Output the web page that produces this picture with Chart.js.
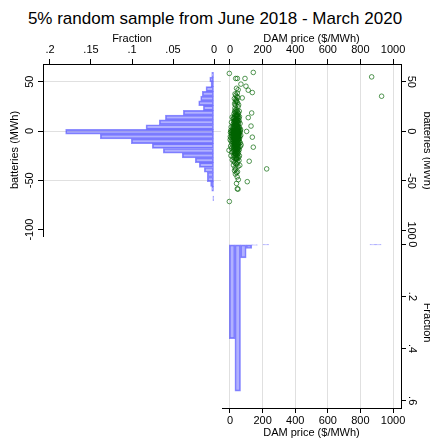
<!DOCTYPE html>
<html>
<head>
<meta charset="utf-8">
<script src="https://cdn.jsdelivr.net/npm/chart.js@4.4.1/dist/chart.umd.min.js"></script>
<style>
  html, body { margin: 0; padding: 0; background: #fff; }
  #wrap { position: relative; width: 430px; height: 440px; }
  #wrap canvas { position: absolute; left: 0; top: 0; }
  #title { position: absolute; left: 0; top: 9px; width: 430px; text-align: center;
           font: 17px "Liberation Sans", Arial, sans-serif; line-height: 20px; color: #000; }
</style>
</head>
<body>
<div id="wrap">
  <div id="title">5% random sample from June 2018 - March 2020</div>
  <canvas id="leftHist" width="430" height="440"></canvas>
  <canvas id="scatter" width="430" height="440"></canvas>
  <canvas id="bottomHist" width="430" height="440"></canvas>
</div>
<script>
// ---- data ----
// batteries histogram (left panel), bin centres bottom -> top
const battBins = [-68.3, -63.5, -58.6, -53.8, -49.0, -44.2, -39.4, -34.5, -29.7, -24.9,
  -20.1, -15.2, -10.4, -5.6, -0.8, 4.0, 8.9, 13.7, 18.5, 23.3, 28.2, 33.0, 37.8, 42.6,
  47.4, 52.3, 57.1];
const battFrac = [0.0014, 0, 0.0028, 0.0042, 0.0082, 0.0082, 0.0118, 0.0179, 0.0228, 0.0387,
  0.0618, 0.0752, 0.1008, 0.1386, 0.1809, 0.0829, 0.0667, 0.0593, 0.0374, 0.0130,
  0.0187, 0.0163, 0.0143, 0.0098, 0.0037, 0.0052, 0.0028];

// DAM price histogram (bottom panel), bin centres
const priceBins = [13.0, 47.5, 82.0, 116.5, 151.0, 185.5, 220.0, 254.5, 289.0, 323.5,
  358.0, 392.5, 427.0, 461.5, 496.0, 530.5, 565.0, 599.5, 634.0, 668.5, 703.0, 737.5,
  772.0, 806.5, 841.0, 875.5, 910.0];
const priceFrac = [0.362, 0.563, 0.052, 0.016, 0.003, 0, 0.0014, 0, 0, 0,
  0, 0, 0, 0, 0, 0, 0, 0, 0, 0, 0, 0, 0, 0, 0, 0.0014, 0.0014];

// scatter sample: [DAM price, batteries]
const scatterPts = [
  [32,-0.5],[41,0.8],[25,-2.1],[47,1.2],[38,-1.4],[19,0.3],[44,-2.8],[35,1.5],[29,-0.9],[52,-1.7],
  [12,0.6],[40,-2.4],[33,0.1],[48,-0.3],[27,1.1],[36,-2.9],[43,0.4],[22,-1.2],[55,0.9],[31,-2.2],
  [39,1.4],[46,-0.7],[15,-1.9],[34,0.7],[50,-2.6],[28,-0.1],[42,1.0],[37,-1.5],[24,-2.7],[45,0.2],
  [30,1.3],[53,-1.1],[8,-0.4],[40,-2.0],[35,0.5],[26,-3.0],[49,1.5],[33,-1.6],[44,0.0],[21,-0.8],
  [38,1.2],[57,-2.3],[31,0.9],[42,-1.0],[17,1.4],[46,-2.5],[36,-0.2],[29,0.6],[51,-1.3],[39,-2.8],
  [23,0.3],[41,1.1],[34,-1.8],[47,-0.6],[102,0.0],[3,-1.1],[64,0.5],[10,-2.5],[60,-0.8],[5,1.0],
  [34,-4.1],[45,-6.2],[27,-7.5],[39,-3.6],[50,-5.3],[22,-4.8],[36,-7.9],[42,-3.4],[31,-6.6],[47,-4.4],
  [18,-5.9],[38,-7.1],[44,-3.9],[29,-5.0],[53,-6.9],[33,-4.6],[40,-7.7],[25,-3.3],[48,-5.6],[35,-6.3],
  [14,-4.2],[43,-7.3],[30,-3.8],[37,-5.4],[55,-4.9],[28,-7.0],[46,-6.0],[32,-3.5],[41,-4.7],[20,-6.8],
  [49,-7.6],[36,-4.0],[26,-5.7],[44,-6.4],[39,-3.2],[61,-5.1],[34,-7.4],[51,-4.3],[23,-6.1],[42,-5.8],
  [30,-7.8],[47,-3.7],[137,-5.8],[6,-6.5],[66,-3.9],[11,-4.5],[58,-7.2],[2,-5.2],
  [35,-8.6],[43,-10.2],[28,-12.1],[48,-9.0],[21,-11.4],[39,-8.3],[32,-12.6],[46,-10.9],[26,-9.5],[52,-11.8],
  [37,-8.9],[41,-12.3],[16,-10.0],[45,-9.7],[30,-11.1],[54,-8.2],[34,-12.8],[40,-9.3],[24,-10.6],[49,-11.6],
  [36,-8.0],[58,-10.4],[29,-12.0],[44,-9.1],[33,-11.0],[19,-8.8],[42,-10.8],[38,-12.4],[27,-9.8],[50,-8.5],
  [7,-9.9],[63,-11.5],[12,-12.2],[1,-8.4],
  [33,-13.4],[45,-15.8],[27,-17.2],[40,-14.1],[51,-13.0],[22,-16.3],[37,-14.9],[48,-17.5],[30,-15.2],[42,-13.7],
  [18,-14.6],[55,-16.0],[35,-17.0],[44,-13.2],[25,-15.5],[38,-16.8],[47,-14.3],[31,-13.9],[63,-15.1],[36,-16.5],
  [41,-17.6],[28,-14.0],[49,-15.9],[143,-15.9],[4,-14.8],[9,-16.9],[68,-13.6],
  [34,-18.2],[46,-20.4],[29,-22.1],[41,-19.0],[52,-21.5],[24,-18.9],[38,-20.9],[44,-17.9],[31,-21.8],[48,-19.6],
  [19,-20.1],[36,-22.4],[57,-18.5],[40,-21.2],[27,-19.3],[45,-22.0],[33,-20.6],[-6,-19.0],[50,-18.0],[11,-21.0],
  [37,-23.1],[45,-25.6],[30,-27.0],[42,-24.2],[53,-26.3],[25,-23.8],[39,-26.9],[48,-22.8],[33,-25.0],[58,-24.6],
  [20,-26.0],[43,-27.2],[6,-24.4],
  [36,-28.3],[47,-30.6],[29,-31.5],[41,-27.9],[55,-29.4],[24,-30.0],[118,-30.1],[14,-28.8],
  [38,-33.0],[49,-35.4],[31,-36.6],[43,-32.5],[60,-34.2],[21,-33.9],
  [35,-38.4],[46,-40.7],[225,-37.8],[40,-41.5],[28,-39.6],
  [33,-43.0],[44,-45.9],[51,-48.7],[106,-50.7],[40,-52.5],[45,-57.9],[49,-58.2],[-4,-70.7],
  [34,2.1],[45,4.6],[27,6.0],[40,3.0],[51,5.2],[22,2.5],[37,5.8],[48,1.9],[30,4.1],[43,6.3],
  [17,3.6],[55,2.8],[35,5.5],[42,1.7],[25,4.9],[47,3.3],[32,6.1],[39,2.2],[129,5.4],[58,4.0],
  [28,3.9],[44,5.0],[36,2.6],[20,5.7],[50,3.1],[7,4.4],[65,2.0],
  [33,7.0],[46,9.4],[28,10.8],[41,6.8],[53,8.5],[23,9.9],[37,11.0],[48,7.6],[31,8.2],[43,10.3],
  [19,7.3],[56,10.6],[35,9.0],[40,6.5],[26,8.8],[50,11.1],[38,7.9],[44,9.7],[62,8.0],[30,10.1],[9,9.2],
  [36,12.0],[47,14.5],[29,15.8],[42,11.6],[54,13.2],[24,14.0],[39,15.5],[45,12.4],[32,13.7],[50,15.1],
  [20,12.8],[112,13.9],[35,11.3],[41,16.0],[27,13.0],[58,14.8],[38,12.6],[44,15.6],[13,14.3],
  [34,17.0],[46,19.4],[29,20.6],[41,16.5],[52,18.3],[25,17.8],[38,20.0],[133,18.6],[48,16.9],[31,19.1],[57,20.4],
  [37,22.0],[49,24.8],[30,23.5],[44,21.3],
  [35,26.4],[46,28.9],[28,27.7],[41,30.0],[53,26.8],[33,29.6],
  [39,31.2],[48,34.0],[27,33.1],[75,33.8],[43,35.0],[930,35.5],[36,32.4],
  [36,36.5],[45,38.6],[137,39.2],[31,37.8],
  [112,41.6],[40,43.5],[50,42.0],[98,45.6],[67,47.7],
  [35,53.4],[45,53.4],[92,53.4],[869,55.0],[-4,58.5],[143,59.5]
];

// axis ticks
const battTicks = [-100, -50, 0, 50];
const battLabels = ['-100', '-50', '0', '50'];
const battLabelsRight = ['100', '-50', '0', '50'];
const leftFracTicks = [0, 0.05, 0.1, 0.15, 0.2];
const leftFracLabels = ['0', '.05', '.1', '.15', '.2'];
const priceTicks = [0, 200, 400, 600, 800, 1000];
const priceLabels = ['0', '200', '400', '600', '800', '1000'];
const bottomFracTicks = [0, 0.2, 0.4, 0.6];
const bottomFracLabels = ['0', '.2', '.4', '.6'];

// ---- styles ----
Chart.defaults.font.family = '"Liberation Sans", Arial, Helvetica, sans-serif';
Chart.defaults.font.size = 11;
Chart.defaults.color = '#000';

const gridGray = '#e0e0e0';
const barFill = 'rgba(70, 70, 255, 0.42)';
const barEdge = 'rgba(60, 60, 255, 0.58)';
const dotColor = 'rgba(0, 100, 0, 0.75)';

function setTicks(values) {
  return function (scale) { scale.ticks = values.map(v => ({ value: v })); };
}

const base = {
  responsive: false,
  animation: false,
  events: [],
  plugins: { legend: { display: false }, tooltip: { enabled: false } }
};

// left panel: batteries histogram, horizontal bars
new Chart(document.getElementById('leftHist'), {
  type: 'bar',
  data: {
    datasets: [{
      data: battBins.map((b, i) => ({ x: battFrac[i], y: b })),
      backgroundColor: barFill,
      borderColor: barEdge,
      borderWidth: 1,
      borderSkipped: false,
      barPercentage: 1,
      categoryPercentage: 1
    }]
  },
  options: {
    ...base,
    indexAxis: 'y',
    layout: { padding: { left: 0, top: 0, right: 209, bottom: 204 } },
    scales: {
      x: {
        type: 'linear', position: 'top', reverse: true, min: -0.0085, max: 0.2085,
        afterBuildTicks: setTicks(leftFracTicks),
        afterFit: s => { s.height = 64; },
        ticks: { callback: (v, i) => leftFracLabels[i], padding: 2, autoSkip: false, maxRotation: 0 },
        grid: { drawOnChartArea: false, tickLength: 5, tickColor: '#000' },
        border: { color: '#000', width: 1 },
        title: { display: true, text: 'Fraction', padding: { top: 32, bottom: 0 } }
      },
      y: {
        type: 'linear', position: 'left', min: -106.5, max: 68, offset: false,
        afterBuildTicks: setTicks(battTicks),
        afterFit: s => { s.width = 43; },
        ticks: { callback: (v, i) => battLabels[i], minRotation: 90, maxRotation: 90,
                 crossAlign: 'center', padding: -3, autoSkip: false },
        grid: { offset: false, tickLength: 5, tickColor: '#000',
                color: c => (c.tick && c.tick.value === -100) ? 'rgba(0,0,0,0)' : gridGray },
        border: { color: '#000', width: 1 },
        title: { display: true, text: 'batteries (MWh)', padding: { top: 8, bottom: 0 } }
      }
    }
  }
});

// top right: scatter
new Chart(document.getElementById('scatter'), {
  type: 'scatter',
  data: {
    datasets: [{
      data: scatterPts.map(p => ({ x: p[0], y: p[1] })),
      pointStyle: 'circle',
      pointRadius: 2.3,
      borderWidth: 0.9,
      borderColor: dotColor,
      backgroundColor: 'rgba(0,0,0,0)'
    }]
  },
  options: {
    ...base,
    layout: { padding: { left: 222, top: 0, right: 0, bottom: 203 } },
    scales: {
      x: {
        type: 'linear', position: 'top', min: -49, max: 1049,
        afterBuildTicks: setTicks(priceTicks),
        afterFit: s => { s.height = 64; },
        ticks: { callback: (v, i) => priceLabels[i], padding: 2, autoSkip: false, maxRotation: 0 },
        grid: { color: gridGray, tickLength: 5, tickColor: '#000' },
        border: { color: '#000', width: 1 },
        title: { display: true, text: 'DAM price ($/MWh)', padding: { top: 32, bottom: 0 } }
      },
      y: {
        type: 'linear', position: 'right', min: -106.5, max: 68,
        afterBuildTicks: setTicks(battTicks),
        afterFit: s => { s.width = 29; },
        ticks: { callback: (v, i) => battLabelsRight[i], minRotation: -90, maxRotation: -90,
                 crossAlign: 'center', padding: -4, autoSkip: false },
        grid: { drawOnChartArea: false, tickLength: 5, tickColor: '#000' },
        border: { color: '#000', width: 1 },
        title: { display: true, text: 'batteries (MWh)', padding: { top: -3.5, bottom: 0 } }
      }
    }
  }
});

// bottom right: DAM price histogram, bars hanging down
new Chart(document.getElementById('bottomHist'), {
  type: 'bar',
  data: {
    datasets: [{
      data: priceBins.map((p, i) => ({ x: p, y: priceFrac[i] })),
      backgroundColor: barFill,
      borderColor: barEdge,
      borderWidth: 1,
      borderSkipped: false,
      barPercentage: 1,
      categoryPercentage: 1
    }]
  },
  options: {
    ...base,
    layout: { padding: { left: 222, top: 237, right: 0, bottom: 0 } },
    scales: {
      x: {
        type: 'linear', position: 'bottom', min: -49, max: 1049, offset: false,
        afterBuildTicks: setTicks(priceTicks),
        afterFit: s => { s.height = 32; },
        ticks: { callback: (v, i) => priceLabels[i], padding: 1, autoSkip: false, maxRotation: 0 },
        grid: { offset: false, color: gridGray, tickLength: 5, tickColor: '#000' },
        border: { color: '#000', width: 1 },
        title: { display: true, text: 'DAM price ($/MWh)', padding: { top: 0, bottom: 0 } }
      },
      y: {
        type: 'linear', position: 'right', reverse: true, min: -0.028, max: 0.628,
        afterBuildTicks: setTicks(bottomFracTicks),
        afterFit: s => { s.width = 29; },
        ticks: { callback: (v, i) => bottomFracLabels[i], minRotation: -90, maxRotation: -90,
                 crossAlign: 'center', padding: 1, autoSkip: false },
        grid: { drawOnChartArea: false, tickLength: 5, tickColor: '#000' },
        border: { color: '#000', width: 1 },
        title: { display: true, text: 'Fraction', padding: { top: -3.5, bottom: 0 } }
      }
    }
  }
});
</script>
</body>
</html>
